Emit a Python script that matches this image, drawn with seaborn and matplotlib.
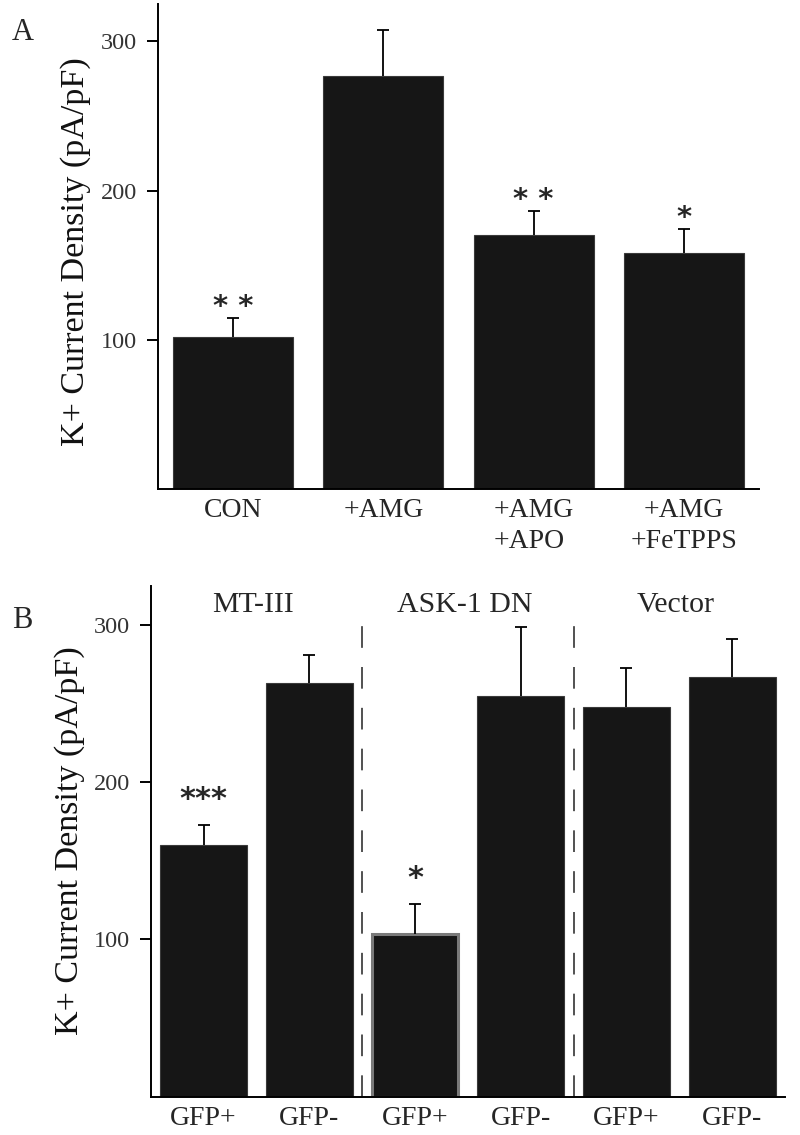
import numpy as np
import matplotlib
matplotlib.use('Agg')
import matplotlib.pyplot as plt
import seaborn as sns

# Panel A data
a_labels = ['CON', '+AMG', '+AMG\n+APO', '+AMG\n+FeTPPS']
a_means = [101.6, 276.6, 170.1, 158.3]
a_sem = [12.7, 30.8, 16.1, 16.0]
a_sig = ['* *', '', '* *', '*']

# Panel B data
b_groups = ['MT-III', 'ASK-1 DN', 'Vector']
b_labels = ['GFP+', 'GFP-', 'GFP+', 'GFP-', 'GFP+', 'GFP-']
b_means = [159.9, 263.5, 103.5, 255.0, 248.2, 267.3]
b_sem = [13.0, 17.6, 19.1, 44.1, 24.4, 24.0]
b_sig = ['***', '', '*', '', '', '']

ylab = 'K+ Current Density (pA/pF)'
bar_color = '#161616'

sns.set_theme(style='ticks')
plt.rcParams['font.family'] = ['Liberation Serif', 'DejaVu Serif']

fig = plt.figure(figsize=(8, 11.35), dpi=100)
ax_a = fig.add_axes([0.1975, 0.5692, 0.7513, 0.4273])
ax_b = fig.add_axes([0.1884, 0.0339, 0.7929, 0.4498])


def draw_panel(ax, labels, means, sem, sig, width, star_off, star_size):
    pos = np.arange(len(means))
    sns.barplot(x=pos, y=means, color=bar_color, saturation=1, width=width,
                errorbar=None, ax=ax)
    for p in ax.patches:
        p.set_edgecolor('#3a3a3a')
        p.set_linewidth(0.8)
    # upper error bars only
    eb = ax.errorbar(pos, means, yerr=[np.zeros(len(sem)), sem], fmt='none',
                     ecolor='black', elinewidth=1.3, capsize=4.5, capthick=1.3,
                     zorder=3)
    eb[1][0].set_visible(False)
    for i, s in enumerate(sig):
        if s:
            ax.text(i, means[i] + sem[i] + star_off, s, ha='center', va='center',
                    fontsize=star_size, fontweight='bold', family='DejaVu Sans')
    ax.set_xlim(-0.5, len(means) - 0.5)
    ax.set_ylim(0, 325)
    ax.set_yticks([100, 200, 300])
    ax.set_xticks(pos)
    ax.set_xticklabels(labels, fontsize=20, linespacing=1.3)
    ax.tick_params(axis='y', length=8, width=1.4, pad=7, labelsize=17.5,
                   labelcolor='#333333', color='black')
    ax.tick_params(axis='x', length=0, pad=6.5)
    sns.despine(ax=ax)
    for side in ['left', 'bottom']:
        ax.spines[side].set_linewidth(1.4)
        ax.spines[side].set_color('black')
    ax.set_xlabel('')
    ax.set_ylabel(ylab, fontsize=24.5, color='#111111')
    ax.yaxis.label.set_verticalalignment('center')


draw_panel(ax_a, a_labels, a_means, a_sem, a_sig, 0.8, 7.5, 21)
ax_a.get_xticklabels()[2].set_multialignment('left')
ax_a.yaxis.set_label_coords(-0.1364, 0.49)

draw_panel(ax_b, b_labels, b_means, b_sem, b_sig, 0.82, 16.5, 22)
ax_b.yaxis.set_label_coords(-0.1272, 0.502)
ax_b.patches[2].set_edgecolor('#7a7a7a')
ax_b.patches[2].set_linewidth(2.2)

# group dividers and names
ax_b.vlines([2 * i - 0.5 for i in range(1, len(b_groups))], 0, 308,
            colors='#333333', linestyles=(0, (13, 11.5)), linewidth=1.2)
for i, g in enumerate(b_groups):
    ax_b.text(2 * i + 0.47, 313, g, ha='center', va='center', fontsize=21.5)

fig.text(23 / 800, 1 - 32 / 1135, 'A', ha='center', va='center', fontsize=22)
fig.text(22 / 800, 1 - 620 / 1135, 'B', ha='center', va='center', fontsize=22)

fig.savefig('out.png', dpi=100)
